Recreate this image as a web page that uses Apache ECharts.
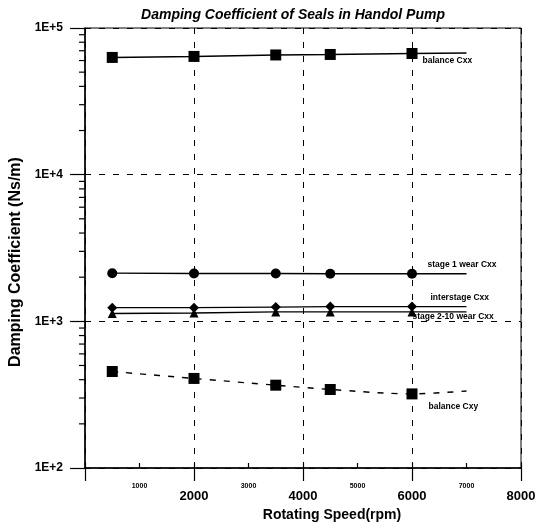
<!DOCTYPE html>
<html>
<head>
<meta charset="utf-8">
<script src="https://cdn.jsdelivr.net/npm/echarts@6/dist/echarts.min.js"></script>
<style>
  html, body { margin: 0; padding: 0; background: #fff; }
  #chart { width: 542px; height: 524px; }
</style>
</head>
<body>
<div id="chart"></div>
<script>
// rotating speed (rpm); last point is only the line's tail, no marker
var speeds = [500, 2000, 3500, 4500, 6000, 7000];
var balanceCxx = [63000, 64000, 65500, 66000, 67000, 67500];
var stage1Cxx = [2130, 2120, 2120, 2110, 2110, 2110];
var interstageCxx = [1240, 1240, 1250, 1260, 1260, 1260];
var stage210Cxx = [1130, 1140, 1160, 1160, 1160, 1160];
var balanceCxy = [455, 408, 367, 343, 320, 335];
var yMinorTicks = [200, 300, 400, 500, 600, 700, 800, 900,
                   2000, 3000, 4000, 5000, 6000, 7000, 8000, 9000,
                   20000, 30000, 40000, 50000, 60000, 70000, 80000, 90000];

var font = 'Liberation Sans, Arial, sans-serif';

function pts(vals) {
    return vals.map(function (v, i) {
        if (i === vals.length - 1) return { value: [speeds[i], v], symbol: 'none' };
        return [speeds[i], v];
    });
}

function endLbl(text, dx, dy) {
    return {
        show: true,
        formatter: text,
        offset: [dx, dy],
        distance: 0,
        color: '#000',
        fontFamily: font,
        fontWeight: 'bold',
        fontSize: 8.5,
        align: 'left',
        verticalAlign: 'middle'
    };
}

function line(name, vals, symbol, size, dashed, lbl) {
    return {
        name: name,
        type: 'line',
        data: pts(vals),
        symbol: symbol,
        symbolSize: size,
        smooth: dashed ? 0.3 : false,
        itemStyle: { color: '#000' },
        lineStyle: { color: '#000', width: 1.4, type: dashed ? [6, 8] : 'solid' },
        endLabel: lbl,
        z: 3
    };
}

var option = {
    animation: false,
    backgroundColor: '#fff',
    title: {
        text: 'Damping Coefficient of Seals in Handol Pump',
        left: 288,
        top: 3,
        textAlign: 'center',
        textStyle: { fontFamily: font, fontSize: 14, fontWeight: 'bold', fontStyle: 'italic', color: '#000' }
    },
    grid: {
        left: 85, right: 21, top: 28, bottom: 56,
        outerBoundsMode: 'none',
        containLabel: false,
        show: true, borderColor: '#000', borderWidth: 1
    },
    xAxis: [{
        type: 'value',
        min: 0, max: 8000, interval: 2000,
        name: 'Rotating Speed(rpm)',
        nameLocation: 'middle',
        nameGap: 38,
        nameTextStyle: { fontFamily: font, fontSize: 14, fontWeight: 'bold', color: '#000', padding: [0, 0, 0, 58] },
        axisLine: { lineStyle: { color: '#000', width: 1.5 } },
        axisTick: { length: 13, lineStyle: { color: '#000', width: 1.2 } },
        axisLabel: {
            margin: 22, fontFamily: font, fontSize: 13, fontWeight: 'bold', color: '#000',
            formatter: function (v) { return v === 0 ? '' : String(v); }
        },
        splitLine: { show: true, lineStyle: { color: '#000', type: [6, 8], width: 1 } }
    }, {
        type: 'value',
        position: 'bottom',
        min: 0, max: 8000, interval: 1000,
        axisLine: { show: false },
        axisTick: { inside: true, length: 5, lineStyle: { color: '#000', width: 1.2 } },
        axisLabel: {
            margin: 15, fontFamily: font, fontSize: 7, fontWeight: 'bold', color: '#000',
            formatter: function (v) { return (v / 1000) % 2 === 1 ? String(v) : ''; }
        },
        splitLine: { show: false }
    }],
    yAxis: {
        type: 'log',
        logBase: 10,
        min: 100, max: 100000,
        name: 'Damping Coefficient (Ns/m)',
        nameLocation: 'middle',
        nameGap: 58,
        nameTextStyle: { fontFamily: font, fontSize: 16, fontWeight: 'bold', color: '#000', padding: [0, 28, 0, 0] },
        axisLine: { lineStyle: { color: '#000', width: 1.5 } },
        axisTick: { length: 15, lineStyle: { color: '#000', width: 1.2 } },
        axisLabel: {
            margin: 22, fontFamily: font, fontSize: 12, fontWeight: 'bold', color: '#000',
            formatter: function (v) { return '1E+' + Math.round(Math.log10(v)); }
        },
        splitLine: { show: true, lineStyle: { color: '#000', type: [6, 8], width: 1 } }
    },
    series: [
        {
            type: 'custom',
            data: yMinorTicks,
            clip: false,
            silent: true,
            renderItem: function (params, api) {
                var p = api.coord([0, api.value(0)]);
                return {
                    type: 'line',
                    shape: { x1: p[0] - 6, y1: p[1], x2: p[0], y2: p[1] },
                    style: { stroke: '#000', lineWidth: 1.2 }
                };
            },
            encode: { y: 0 }
        },
        line('balance Cxx', balanceCxx, 'rect', 11, false, endLbl('balance Cxx', -44, 8)),
        line('stage 1 wear Cxx', stage1Cxx, 'circle', 10, false, endLbl('stage 1 wear Cxx', -39, -9)),
        line('interstage Cxx', interstageCxx, 'diamond', 10, false, endLbl('interstage Cxx', -36, -9)),
        line('stage 2-10 wear Cxx', stage210Cxx, 'triangle', 9, false, endLbl('stage 2-10 wear Cxx', -54, 5)),
        line('balance Cxy', balanceCxy, 'rect', 11, true, endLbl('balance Cxy', -38, 16))
    ]
};

var myChart = echarts.init(document.getElementById('chart'));
myChart.setOption(option);
</script>
</body>
</html>
